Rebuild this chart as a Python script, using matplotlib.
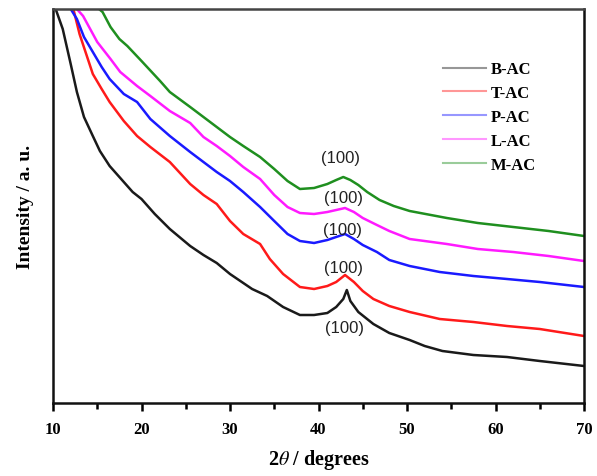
import matplotlib
matplotlib.use("Agg")
import matplotlib.pyplot as plt
from matplotlib.ticker import MultipleLocator

plt.rcParams["mathtext.fontset"] = "stix"

# ---- data (intensity in arbitrary units) ----
b_x = [10.3, 11.1, 12.0, 12.7, 13.5, 14.5, 15.3, 16.4, 17.5, 19.0, 20.0, 21.5, 23.2, 25.5, 27.0, 28.5,
       30.0, 31.5, 32.5, 34.2, 36.0, 37.9, 39.5, 41.0, 42.0, 42.8, 43.2, 43.6, 44.5, 46.2, 48.0, 50.3,
       52.0, 54.0, 57.5, 61.3, 65.0, 70.0]
b_y = [394, 374, 339, 311, 286, 267, 252, 237, 226, 211, 204, 189, 174, 157, 148, 140,
       129, 120, 114, 107, 96, 88, 88, 90, 96, 104, 113, 102, 91, 79, 70, 63,
       57, 52, 48, 46, 42, 37]

t_x = [12.3, 13.0, 14.5, 15.5, 16.4, 18.0, 19.5, 21.0, 23.2, 25.5, 27.0, 28.5, 30.0, 31.5, 33.4, 34.5,
       36.0, 37.9, 39.5, 41.0, 42.0, 43.0, 44.0, 45.0, 46.2, 48.0, 50.3, 53.7, 57.5, 61.3, 65.0, 70.0]
t_y = [394, 369, 329, 314, 301, 282, 267, 256, 241, 219, 208, 199, 182, 169, 159, 144,
       129, 116, 114, 117, 121, 128, 121, 112, 104, 97, 91, 84, 81, 77, 74, 67]

p_x = [12.0, 12.7, 13.5, 14.5, 15.5, 16.4, 18.0, 19.5, 21.0, 23.2, 25.5, 27.0, 28.5, 30.0, 31.5, 33.4,
       35.0, 36.5, 37.9, 39.5, 41.0, 42.0, 43.0, 44.0, 45.0, 46.6, 48.0, 50.3, 53.7, 57.5, 61.3, 65.0, 70.0]
p_y = [394, 384, 366, 351, 336, 324, 309, 301, 284, 267, 251, 241, 231, 222, 211, 196,
       182, 169, 162, 160, 163, 166, 169, 164, 158, 151, 143, 137, 131, 127, 124, 121, 116]

l_x = [12.7, 13.4, 15.0, 16.5, 17.6, 19.5, 21.0, 23.2, 25.5, 27.0, 28.5, 30.0, 31.5, 33.4, 35.0, 36.5,
       37.9, 39.5, 41.0, 42.0, 43.0, 44.0, 45.0, 46.6, 48.0, 50.3, 54.5, 58.0, 62.0, 66.0, 70.0]
l_y = [394, 387, 361, 344, 331, 317, 307, 292, 280, 266, 257, 247, 236, 224, 208, 196,
       190, 189, 191, 193, 195, 191, 185, 178, 172, 164, 159, 154, 151, 147, 142]

m_x = [15.2, 15.6, 16.5, 17.5, 18.4, 20.0, 22.1, 23.2, 25.5, 27.0, 28.5, 30.0, 31.5, 33.4, 35.0, 36.5,
       37.9, 39.5, 41.0, 42.0, 42.8, 43.6, 44.5, 45.5, 46.9, 48.5, 50.3, 54.5, 58.0, 62.0, 66.0, 70.0]
m_y = [394, 391, 376, 364, 357, 342, 322, 311, 296, 286, 276, 266, 257, 246, 234, 222,
       214, 215, 219, 223, 226, 223, 218, 211, 203, 197, 192, 185, 180, 176, 172, 167]

labels = ["B-AC", "T-AC", "P-AC", "L-AC", "M-AC"]
colors = ["#1a1a1a", "#ff1a1a", "#1a1aff", "#ff1aff", "#1f8f1f"]
series = [(b_x, b_y), (t_x, t_y), (p_x, p_y), (l_x, l_y), (m_x, m_y)]

peak_label = "(100)"
peak_pos = [(42.9, 76), (42.8, 136), (42.7, 174), (42.8, 205), (42.5, 245)]

xticks = [10, 20, 30, 40, 50, 60, 70]

# ---- figure ----
fig = plt.figure(figsize=(5.97, 4.77), dpi=100)
ax = fig.add_axes([53/597, 1-404/477, (584-53)/597, (404-10)/477])

for (x, y), c, lab in zip(series, colors, labels):
    ax.plot(x, y, color=c, lw=1.8, label=lab)

for (px, py) in peak_pos:
    ax.text(px, py, peak_label, ha="center", va="center", fontsize=12,
            family="Liberation Sans", color="#222222")

ax.set_xlim(10, 70)
ax.set_ylim(0, 394)
ax.set_xticks(xticks)
ax.xaxis.set_minor_locator(MultipleLocator(5))
ax.set_yticks([])
ax.tick_params(axis="x", which="major", direction="out", length=6, width=1.8,
               labelsize=12, pad=7)
ax.tick_params(axis="x", which="minor", direction="out", length=4, width=1.8)
for t in ax.get_xticklabels():
    t.set_fontfamily("Liberation Serif")
    t.set_fontweight("bold")

for s in ax.spines.values():
    s.set_linewidth(1.8)
    s.set_color("#111111")
ax.spines["top"].set_color("#444444")

ax.set_xlabel(r"2$\theta$ / degrees", fontsize=14.5, fontweight="bold",
              family="Liberation Serif", labelpad=7)
ax.set_ylabel("Intensity / a. u.", fontsize=14, fontweight="bold",
              family="Liberation Serif", labelpad=14)

leg = ax.legend(loc="upper left", bbox_to_anchor=(0.706, 0.905), frameon=False,
                prop={"family": "Liberation Serif", "weight": "bold", "size": 12},
                handlelength=2.6, handletextpad=0.3, labelspacing=0.47)
for h in leg.get_lines():
    h.set_alpha(0.45)
    h.set_linewidth(1.5)

fig.savefig("out.png", dpi=100)
